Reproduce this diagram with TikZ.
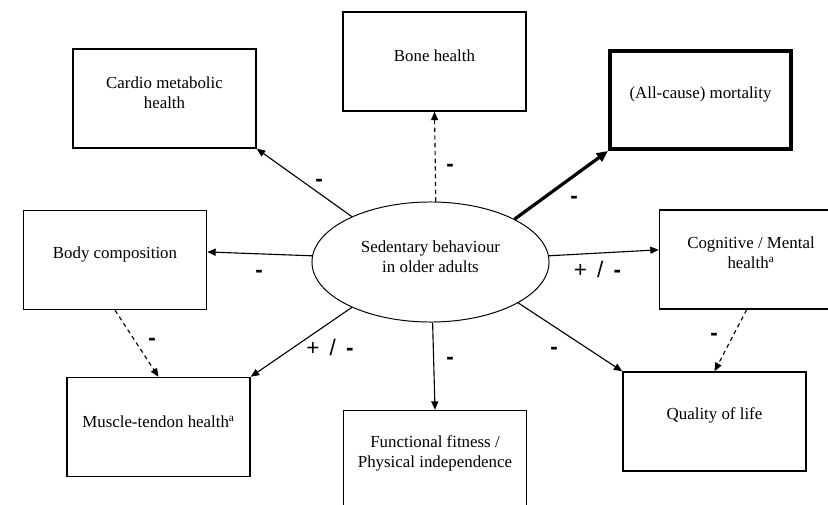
\documentclass[tikz,border=0pt]{standalone}
\usepackage{fontspec}
\setmainfont{Liberation Serif}
\newfontfamily\signfont{Liberation Sans}
\usetikzlibrary{arrows.meta,shapes.geometric}
\tikzset{
    outcome/.style={draw, line width=1pt, minimum width=4.575cm, minimum height=2.475cm, inner sep=0pt},
    outcometext/.style={align=center, inner sep=0pt, font=\fontsize{12}{14.2}\selectfont},
    sign/.style={inner sep=0pt, font=\signfont\fontsize{16}{16}\selectfont},
    effect/.style={line width=0.8pt, -{Triangle[length=6pt,width=5pt]}},
    weakeffect/.style={effect, dash pattern=on 3pt off 2.5pt},
}
\begin{document}
\begin{tikzpicture}[x=0.025cm, y=-0.025cm]
    \clip (0,0) rectangle (828,505);
    \node[draw, ellipse, line width=0.7pt, minimum width=5.925cm, minimum height=3cm, inner sep=0pt] (sedentary) at (430.5,262) {};
    \node[outcometext] (sedentarytext) at ([yshift=3.5pt]sedentary.center) {Sedentary behaviour\\in older adults};
    \node[outcome] (cardio) at (164.5,98.5) {};
    \node[outcometext] (cardiotext) at ([yshift=4pt]cardio.center) {Cardio metabolic\\health};
    \node[outcome] (bone) at (434.5,61.5) {};
    \node[outcometext] (bonetext) at ([yshift=4pt]bone.center) {Bone health};
    \node[outcome, line width=2.8pt, minimum width=4.525cm, minimum height=2.45cm] (mortality) at (700.5,100) {};
    \node[outcometext] (mortalitytext) at ([yshift=4pt]mortality.center) {(All-cause) mortality};
    \node[outcome] (cognitive) at (751,259.5) {};
    \node[outcometext] (cognitivetext) at ([yshift=4.5pt]cognitive.center) {Cognitive / Mental\\health\textsuperscript{a}};
    \node[outcome] (body) at (115,260) {};
    \node[outcometext] (bodytext) at ([yshift=4pt]body.center) {Body composition};
    \node[outcome] (muscle) at (158.5,427) {};
    \node[outcometext] (muscletext) at ([yshift=4pt]muscle.center) {Muscle-tendon health\textsuperscript{a}};
    \node[outcome] (functional) at (435,460) {};
    \node[outcometext] (functionaltext) at ([yshift=4.5pt]functional.center) {Functional fitness /\\Physical independence};
    \node[outcome] (quality) at (714.5,421.5) {};
    \node[outcometext] (qualitytext) at ([yshift=4pt]quality.center) {Quality of life};
    \draw[effect] (sedentary.150) -- (cardio.south east);
    \draw[weakeffect] (sedentary.85) -- (bone.south);
    \draw[effect, line width=2.3pt, -{Triangle[length=8pt,width=7pt]}] (sedentary.27) -- (mortality.south west);
    \draw[effect] (sedentary.3) -- (cognitive.174);
    \draw[effect] (sedentary.177) -- (body.5);
    \draw[effect] (sedentary.210) -- (muscle.north east);
    \draw[effect] (sedentary.272) -- (functional.north);
    \draw[effect] (sedentary.335) -- (quality.north west);
    \draw[weakeffect] (body.south) -- (muscle.north);
    \draw[weakeffect] (cognitive.265) -- (quality.north);
    \node[sign] (cardiosign) at (319,182.5) {\textbf{-}};
    \node[sign] (bonesign) at (450,167.5) {\textbf{-}};
    \node[sign] (mortalitysign) at (574,199.5) {\textbf{-}};
    \node[sign] (bodysign) at (259,273.5) {\textbf{-}};
    \node[sign] (cognitivesign) at (597.5,269) {+\hspace{.45em}/\hspace{.45em}\textbf{-}};
    \node[sign] (musclesign) at (330,347) {+\hspace{.45em}/\hspace{.45em}\textbf{-}};
    \node[sign] (bodymusclesign) at (152,341.5) {\textbf{-}};
    \node[sign] (functionalsign) at (450,360.5) {\textbf{-}};
    \node[sign] (qualitysign) at (554,350.5) {\textbf{-}};
    \node[sign] (cognitivequalitysign) at (714,336.5) {\textbf{-}};
\end{tikzpicture}
\end{document}
